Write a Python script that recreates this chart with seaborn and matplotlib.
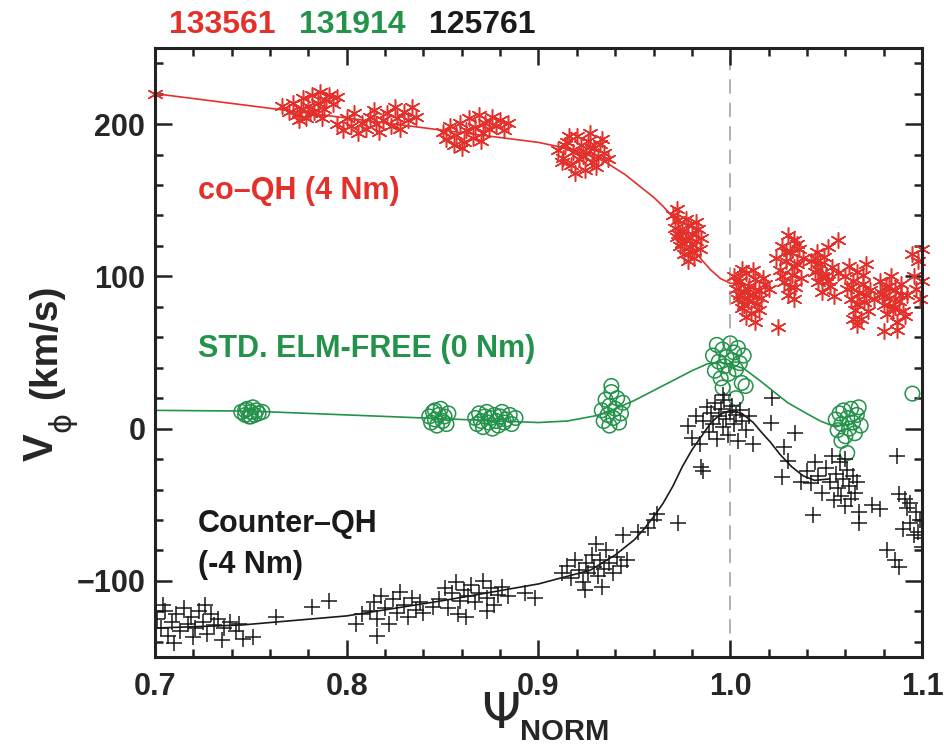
import numpy as np
import pandas as pd
import seaborn as sns
import matplotlib.pyplot as plt
from matplotlib.ticker import MultipleLocator

# colours
RED = "#e3302b"
GREEN = "#23924a"
BLACK = "#1a1a1a"

# shot numbers shown above the frame
shots = ["133561", "131914", "125761"]
shot_colors = [RED, GREEN, BLACK]

# co-QH (4 Nm), shot 133561 : measured points
co_x = [0.700,
        0.766, 0.770, 0.772, 0.774, 0.776, 0.777, 0.779, 0.780, 0.782, 0.783, 0.785, 0.786, 0.788, 0.789, 0.791, 0.793, 0.795, 0.775, 0.781, 0.787,
        0.795, 0.798, 0.800, 0.802, 0.804, 0.806, 0.808, 0.810, 0.812, 0.814, 0.815, 0.817, 0.819, 0.821, 0.823, 0.825, 0.826, 0.828, 0.830, 0.832, 0.834, 0.836,
        0.850, 0.852, 0.854, 0.856, 0.857, 0.859, 0.861, 0.862, 0.864, 0.866, 0.867, 0.869, 0.871, 0.872, 0.874, 0.876, 0.878, 0.880, 0.882, 0.884, 0.860, 0.870,
        0.910, 0.913, 0.915, 0.917, 0.918, 0.920, 0.921, 0.922, 0.924, 0.925, 0.926, 0.928, 0.929, 0.931, 0.932, 0.934, 0.919, 0.927,
        0.912, 0.916, 0.923, 0.930, 0.933, 0.914, 0.927, 0.936,
        0.970, 0.971, 0.972, 0.973, 0.974, 0.975, 0.976, 0.977, 0.978, 0.979, 0.980, 0.981, 0.982, 0.983, 0.984, 0.972, 0.978,
        0.975, 0.977, 0.980, 0.982, 0.973, 0.985,
        1.002, 1.003, 1.004, 1.005, 1.006, 1.007, 1.008, 1.009, 1.010, 1.011, 1.012, 1.013, 1.014, 1.015, 1.016, 1.018, 1.008, 1.013, 1.020, 1.006,
        1.004, 1.007, 1.010, 1.012, 1.015, 1.017, 1.009, 1.005,
        1.024, 1.026, 1.027, 1.028, 1.029, 1.030, 1.031, 1.032, 1.033, 1.034, 1.035, 1.036, 1.037, 1.038, 1.030, 1.033, 1.025,
        1.027, 1.031, 1.035, 1.029, 1.033,
        1.042, 1.044, 1.045, 1.046, 1.047, 1.048, 1.049, 1.050, 1.051, 1.052, 1.053, 1.054, 1.056, 1.056,
        1.044, 1.048, 1.051, 1.046,
        1.060, 1.061, 1.062, 1.063, 1.064, 1.065, 1.066, 1.067, 1.068, 1.069, 1.070, 1.071, 1.072, 1.073, 1.075, 1.066,
        1.063, 1.066, 1.069, 1.071, 1.064,
        1.078, 1.079, 1.080, 1.081, 1.082, 1.083, 1.084, 1.085, 1.086, 1.087, 1.088, 1.089, 1.090, 1.092, 1.080, 1.087,
        1.080, 1.083, 1.086, 1.089, 1.091,
        1.096, 1.097, 1.098, 1.099, 1.100, 1.100, 1.095]
co_v = [220,
        212, 208, 214, 206, 210, 217, 204, 212, 219, 208, 214, 221, 210, 216, 219, 213, 218, 203, 207, 204,
        200, 196, 204, 199, 207, 194, 201, 197, 205, 209, 200, 195, 203, 207, 199, 211, 204, 197, 208, 203, 211, 205,
        195, 190, 199, 186, 193, 201, 188, 196, 204, 191, 198, 206, 194, 201, 197, 205, 199, 203, 196, 201, 184, 189,
        183, 178, 188, 173, 182, 192, 177, 186, 170, 181, 189, 175, 184, 179, 187, 181, 168, 194,
        175, 192, 179, 172, 190, 186, 185, 177,
        140, 132, 126, 137, 120, 130, 115, 124, 134, 119, 128, 112, 123, 131, 118, 144, 110,
        122, 138, 116, 136, 128, 125,
        100, 92, 85, 97, 79, 90, 102, 84, 94, 76, 88, 98, 82, 91, 86, 95, 73, 70, 92, 105,
        96, 81, 88, 104, 78, 99, 92, 88,
        112, 104, 120, 96, 110, 88, 116, 101, 124, 93, 108, 118, 99, 112, 127, 85, 67,
        100, 93, 121, 116, 106,
        110, 103, 116, 96, 108, 90, 113, 100, 119, 94, 106, 87, 102, 124,
        112, 100, 97, 105,
        100, 92, 107, 85, 97, 78, 103, 89, 72, 95, 83, 108, 77, 91, 85, 68,
        93, 82, 101, 88, 72,
        97, 89, 81, 93, 75, 86, 100, 79, 91, 70, 84, 95, 77, 88, 64, 65,
        87, 94, 80, 88, 74,
        100, 92, 110, 85, 118, 97, 115]

# co-QH fit
co_fit_x = [0.70, 0.75, 0.80, 0.85, 0.90, 0.915, 0.93, 0.935, 0.94, 0.945, 0.95, 0.955, 0.96, 0.965, 0.97,
            0.975, 0.98, 0.985, 0.99, 0.995, 1.00, 1.008]
co_fit_v = [220, 212, 204, 196, 188, 184, 178, 175, 171, 167, 162, 157, 152, 146, 139,
            130, 120, 111, 104, 98.5, 95.5, 95]

# standard ELM-free (0 Nm), shot 131914
std_x = [0.745, 0.747, 0.748, 0.749, 0.750, 0.751, 0.752, 0.753, 0.754, 0.756, 0.747, 0.750,
         0.843, 0.844, 0.845, 0.846, 0.847, 0.848, 0.849, 0.850, 0.851, 0.852, 0.853, 0.846,
         0.867, 0.868, 0.869, 0.870, 0.871, 0.872, 0.873, 0.874, 0.875, 0.876, 0.877, 0.878, 0.879, 0.880, 0.881, 0.882, 0.883, 0.885, 0.886, 0.888,
         0.933, 0.934, 0.935, 0.936, 0.937, 0.937, 0.938, 0.939, 0.940, 0.941, 0.942, 0.943, 0.944, 0.938,
         0.991, 0.992, 0.993, 0.994, 0.995, 0.996, 0.997, 0.998, 0.999, 1.000, 1.001, 1.002, 1.003, 1.004, 1.005, 1.006, 1.007, 0.996, 1.003, 1.008,
         1.055, 1.056, 1.057, 1.058, 1.059, 1.060, 1.061, 1.062, 1.063, 1.064, 1.065, 1.066, 1.067, 1.068, 1.061, 1.058,
         1.095]
std_v = [11, 9, 13, 8, 11, 14, 9, 12, 10, 11, 12, 8,
         8, 4, 11, 6, 2, 9, 13, 5, 8, 3, 10, 12,
         7, 3, 10, 5, 1, 8, 11, 4, 7, 0, 9, 5, 2, 8, 11, 4, 6, 9, 3, 7,
         12, 5, 19, 9, 2, 15, 24, 7, 13, 20, 4, 10, 17, 28,
         48, 38, 55, 44, 33, 52, 41, 47, 36, 56, 45, 50, 39, 53, 43, 30, 48, 27, 20, 28,
         6, -1, 10, 3, 12, -5, 7, 0, 13, 4, -3, 9, 14, 2, -16, -8,
         23]

std_fit_x = [0.70, 0.75, 0.80, 0.85, 0.88, 0.90, 0.915, 0.93, 0.94, 0.95, 0.96, 0.97, 0.98, 0.988, 0.995,
             1.00, 1.007, 1.015, 1.022, 1.03, 1.04, 1.047, 1.052, 1.058, 1.063, 1.066, 1.07]
std_fit_v = [12, 11.5, 9, 6.5, 5, 4, 5, 8.5, 13, 18.5, 25, 31.5, 38, 42.5, 43.5,
             42.5, 39.5, 32, 25, 17, 9.8, 5, 2.5, 2, 3, 6, 11]

# counter-QH (-4 Nm), shot 125761
ctr_x = [0.701, 0.703, 0.705, 0.707, 0.709, 0.711, 0.713, 0.715, 0.717, 0.719, 0.721, 0.723, 0.725, 0.727, 0.729, 0.731, 0.733, 0.736, 0.739, 0.742, 0.744, 0.710, 0.720, 0.735, 0.704, 0.726,
         0.746, 0.751, 0.763, 0.782, 0.791,
         0.812, 0.814, 0.816, 0.818, 0.820, 0.822, 0.824, 0.826, 0.828, 0.830, 0.832, 0.834, 0.836, 0.838, 0.840, 0.816, 0.808, 0.805,
         0.848, 0.851, 0.853, 0.855, 0.857, 0.859, 0.861, 0.863, 0.865, 0.867, 0.869, 0.871, 0.873, 0.875, 0.877, 0.879, 0.881, 0.884, 0.858, 0.862, 0.873, 0.893, 0.898, 0.845,
         0.912, 0.915, 0.917, 0.919, 0.921, 0.923, 0.925, 0.926, 0.928, 0.929, 0.931, 0.932, 0.934, 0.935, 0.937, 0.939, 0.941, 0.943, 0.946, 0.924, 0.933, 0.930,
         0.944, 0.952, 0.957, 0.962, 0.973, 0.960,
         0.978, 0.980, 0.982, 0.984, 0.986, 0.988, 0.989, 0.990, 0.991, 0.992, 0.993, 0.994, 0.995, 0.996, 0.997, 0.998, 0.999, 1.000, 1.001, 1.002, 1.003, 1.004, 1.005, 1.006, 1.008, 1.010, 1.012, 0.996, 0.985, 0.986,
         1.022, 1.021, 1.034, 1.028, 1.030, 1.027,
         1.040, 1.042, 1.044, 1.046, 1.048, 1.050, 1.052, 1.054, 1.055, 1.056, 1.057, 1.058, 1.059, 1.060, 1.061, 1.062, 1.063, 1.064, 1.065, 1.066, 1.067, 1.053, 1.060, 1.037,
         1.043, 1.067, 1.074, 1.078, 1.087,
         1.088, 1.091, 1.094, 1.097, 1.099, 1.098, 1.100, 1.096, 1.094, 1.090, 1.082, 1.086, 1.088, 1.100, 1.092]
ctr_v = [-125, -131, -120, -136, -127, -122, -133, -118, -128, -124, -131, -120, -127, -135, -122, -129, -125, -131, -127, -133, -128, -141, -137, -139, -116, -116,
         -138, -137, -124, -117, -113,
         -120, -114, -125, -110, -118, -128, -112, -121, -107, -116, -124, -111, -119, -114, -121, -136, -122, -128,
         -112, -105, -118, -108, -101, -113, -106, -110, -103, -114, -108, -100, -111, -105, -116, -109, -104, -110, -122, -124, -120, -108, -111, -117,
         -95, -90, -98, -86, -93, -101, -88, -95, -83, -91, -97, -86, -92, -80, -88, -95, -84, -90, -86, -106, -104, -76,
         -70, -68, -65, -56, -62, -60,
         2, -6, 8, -10, 5, 14, -2, 10, 3, 17, -7, 8, 13, 1, 19, 6, -4, 11, 15, 3, 9, -8, 12, 5, -1, 8, -10, 22, -25, -28,
         20, 4, -3, -12, -21, -32,
         -28, -36, -22, -31, -42, -26, -35, -47, -30, -39, -22, -44, -33, -51, -27, -38, -46, -31, -42, -35, -55, -18, -20, -35,
         -57, -62, -50, -53, -18,
         -43, -46, -49, -55, -60, -68, -72, -70, -62, -66, -80, -86, -91, -78, -52]

ctr_fit_x = [0.70, 0.745, 0.80, 0.85, 0.90, 0.927, 0.94, 0.95, 0.955, 0.96, 0.965, 0.97, 0.975, 0.98, 0.985, 0.99, 0.995,
             1.000, 1.006, 1.012, 1.016, 1.021, 1.026, 1.032, 1.038, 1.044, 1.052]
ctr_fit_v = [-131, -129, -123, -113, -102, -93, -83, -73, -66, -58, -49, -38, -25, -14, -5, 4, 9.5,
             12, 10, 4, -2, -9, -17, -25, -31, -34, -33]

labels = ["co\u2013QH (4 Nm)", "STD. ELM-FREE (0 Nm)", "Counter\u2013QH\n(-4 Nm)"]
label_y = [156, 52, -76]

FONT = ["Liberation Sans", "DejaVu Sans"]

sns.set_style("ticks")
plt.rcParams["font.family"] = FONT
plt.rcParams["font.weight"] = "bold"

fig = plt.figure(figsize=(9.44, 7.52), dpi=100)
ax = fig.add_axes([155 / 944, 1 - 657 / 752, 767 / 944, 609 / 752])

# fits
sns.lineplot(x=co_fit_x, y=co_fit_v, color=RED, lw=1.2, estimator=None, ax=ax)
sns.lineplot(x=std_fit_x, y=std_fit_v, color=GREEN, lw=1.2, estimator=None, ax=ax)
sns.lineplot(x=ctr_fit_x, y=ctr_fit_v, color=BLACK, lw=1.2, estimator=None, ax=ax)

# data
sns.scatterplot(x=co_x, y=co_v, marker=(6, 2, 0), s=125, color=RED, linewidth=1.1, clip_on=False, ax=ax)
sns.scatterplot(x=std_x, y=std_v, marker="o", s=110, facecolors="none", edgecolor=GREEN, linewidth=1.1, ax=ax)
sns.scatterplot(x=ctr_x, y=ctr_v, marker="+", s=140, color=BLACK, linewidth=1.1, ax=ax)

ax.axvline(1.0, color="#aaaaaa", lw=1.3, ls=(0, (8, 5)), zorder=0)

ax.set_xlim(0.7, 1.1)
ax.set_ylim(-150, 250)
ax.xaxis.set_major_locator(MultipleLocator(0.1))
ax.xaxis.set_minor_locator(MultipleLocator(0.02))
ax.yaxis.set_major_locator(MultipleLocator(100))
ax.yaxis.set_minor_locator(MultipleLocator(20))
ax.set_xticks([0.7, 0.8, 0.9, 1.0, 1.1])
ax.set_xticklabels(["0.7", "0.8", "0.9", "1.0", "1.1"])
ax.tick_params(which="both", direction="in", top=True, right=True, width=1.8, color="#222222")
ax.tick_params(which="major", length=12)
ax.tick_params(which="minor", length=6)
ax.tick_params(axis="x", pad=11, labelsize=22)
ax.tick_params(axis="y", pad=7, labelsize=22)
for sp in ax.spines.values():
    sp.set_linewidth(2.2)
    sp.set_color("#222222")

for txt, yv, c in zip(labels, label_y, shot_colors):
    ax.text(0.7225, yv, txt, color=c, fontsize=22, fontweight="bold", ha="left", va="center", linespacing=1.5)

# shot numbers on top
for i, (s, c) in enumerate(zip(shots, shot_colors)):
    fig.text((222 + i * 130) / 944, 1 - 25 / 752, s, color=c, fontsize=23, fontweight="bold", ha="center", va="center")

# y label: V_phi (km/s)
fig.text(42 / 944, 1 - 447 / 752, "V", fontsize=30, fontweight="bold", rotation=90, ha="center", va="center")
fig.text(62 / 944, 1 - 422 / 752, "\u03d5", family="DejaVu Sans", fontweight="normal", fontsize=22, rotation=90, ha="center", va="center")
fig.text(46 / 944, 1 - 342 / 752, "(km/s)", fontsize=28, fontweight="bold", rotation=90, ha="center", va="center")

# x label: Psi_NORM
fig.text(501 / 944, 1 - 714 / 752, "\u03a8", family="DejaVu Sans", fontweight="normal", fontsize=36, ha="center", va="center")
fig.text(520 / 944, 1 - 732 / 752, "NORM", fontsize=21, fontweight="bold", ha="left", va="center")

ax.set_xlabel("")
ax.set_ylabel("")
fig.savefig("out.png", dpi=100)
